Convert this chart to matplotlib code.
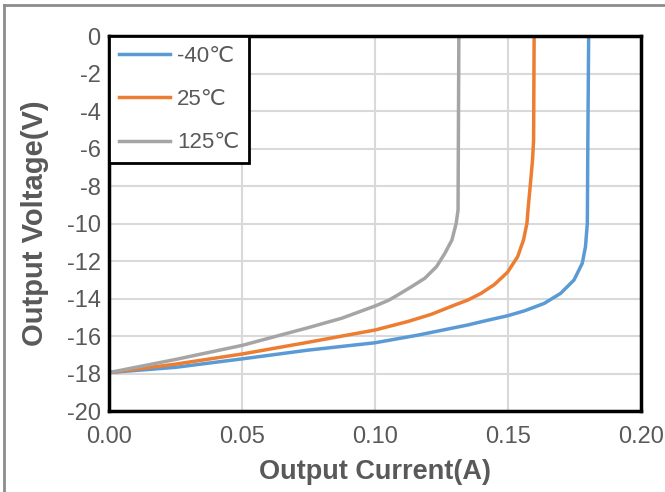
import matplotlib
matplotlib.use('Agg')
import matplotlib.pyplot as plt
from matplotlib.lines import Line2D

plt.rcParams['font.family'] = ['Liberation Sans', 'DejaVu Sans']
plt.rcParams['axes.unicode_minus'] = False

# output current (A) / output voltage (V)
i_m40 = [0.0, 0.025, 0.05, 0.075, 0.10, 0.1162, 0.1349, 0.1411, 0.1498, 0.1561,
         0.1636, 0.1698, 0.1748, 0.1779, 0.1791, 0.1798, 0.1800, 0.1803]
v_m40 = [-17.95, -17.67, -17.22, -16.75, -16.36, -15.95, -15.41, -15.2, -14.92, -14.66,
         -14.26, -13.72, -13.01, -12.12, -11.24, -9.99, -5.5, 0.0]

i_25 = [0.0, 0.025, 0.05, 0.075, 0.10, 0.1125, 0.1212, 0.1299, 0.1349, 0.1399, 0.1449,
        0.1473, 0.1498, 0.1536, 0.1558, 0.1571, 0.1576, 0.1583, 0.1592, 0.1596, 0.1598]
v_25 = [-17.95, -17.5, -16.96, -16.33, -15.68, -15.22, -14.84, -14.35, -14.08, -13.72, -13.25,
        -12.93, -12.6, -11.77, -10.88, -9.99, -9.1, -8.04, -6.61, -5.55, 0.0]

i_125 = [0.0, 0.025, 0.05, 0.075, 0.0875, 0.10, 0.105, 0.1075, 0.1137, 0.1187, 0.1231,
         0.1262, 0.1289, 0.1305, 0.1312, 0.1315]
v_125 = [-17.95, -17.25, -16.5, -15.55, -15.05, -14.4, -14.1, -13.9, -13.37, -12.92, -12.3,
         -11.6, -10.88, -9.99, -9.28, 0.0]

labels = ['-40℃', '25℃', '125℃']
colors = ['#5B9BD5', '#ED7D31', '#A5A5A5']

fig = plt.figure(figsize=(6.65, 4.92), dpi=100)
ax = fig.add_axes([0.164, 0.1646, 0.80, 0.7622])

ax.plot(i_m40, v_m40, color=colors[0], lw=2.5, label=labels[0], solid_joinstyle='round')
ax.plot(i_25, v_25, color=colors[1], lw=2.5, label=labels[1], solid_joinstyle='round')
ax.plot(i_125, v_125, color=colors[2], lw=2.5, label=labels[2], solid_joinstyle='round')

ax.set_xlim(0, 0.20)
ax.set_ylim(-20, 0)
ax.set_xticks([0.0, 0.05, 0.10, 0.15, 0.20])
ax.set_xticklabels(['0.00', '0.05', '0.10', '0.15', '0.20'])
ax.set_yticks(range(-20, 1, 2))
ax.grid(True, color='#D9D9D9', lw=1.5)
ax.set_axisbelow(True)
ax.tick_params(length=0, labelsize=17, labelcolor='#595959')
ax.tick_params(axis='x', pad=11)
ax.tick_params(axis='y', pad=6)
for s in ax.spines.values():
    s.set_linewidth(2.5)
    s.set_color('black')

ax.set_xlabel('Output Current(A)', fontsize=19.5, fontweight='bold', color='#595959', labelpad=8)
ax.set_ylabel('Output Voltage(V)', fontsize=21, fontweight='bold', color='#595959', labelpad=13)

leg = ax.legend(loc='upper left', borderaxespad=0, fontsize=16, fancybox=False,
                handlelength=2.3, labelspacing=1.0, borderpad=0.45, handletextpad=0.3)
leg.get_frame().set_edgecolor('black')
leg.get_frame().set_linewidth(2)
leg.get_frame().set_alpha(1)
for t in leg.get_texts():
    t.set_color('#595959')

# outer frame lines (top and left) of the original picture
fig.add_artist(Line2D([0.006, 1.0], [0.99, 0.99], color='#8C8C8C', lw=2, transform=fig.transFigure))
fig.add_artist(Line2D([0.006, 0.006], [0.0, 0.99], color='#8C8C8C', lw=2, transform=fig.transFigure))

fig.savefig('out.png', dpi=100)
